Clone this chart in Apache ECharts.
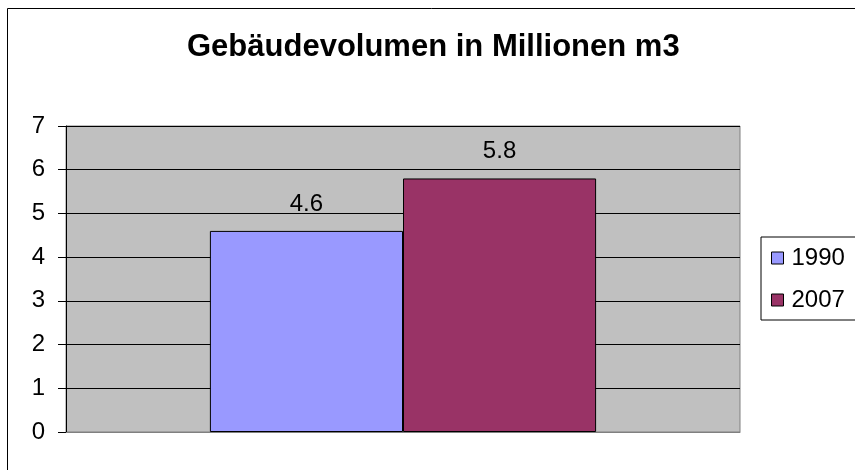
<!DOCTYPE html>
<html><head><meta charset="utf-8">
<script src="https://cdn.jsdelivr.net/npm/echarts@6/dist/echarts.min.js"></script>
<style>html,body{margin:0;padding:0;background:#fff}#c{width:855px;height:470px}</style>
</head><body><div id="c"></div>
<script>
const titleText = 'Gebäudevolumen in Millionen m3';
const categories = [''];
const seriesNames = ['1990', '2007'];
const values1990 = [4.6];
const values2007 = [5.8];
const colors = ['#9999FF', '#993366'];

const chart = echarts.init(document.getElementById('c'), null, {renderer: 'canvas'});
const font = '"Liberation Sans", Arial, sans-serif';
chart.setOption({
  animation: false,
  textStyle: {fontFamily: font},
  title: {
    text: titleText, left: 187, top: 32, padding: 0,
    textStyle: {fontFamily: font, fontSize: 31, fontWeight: 'bold', color: '#000', lineHeight: 31}
  },
  graphic: [{
    type: 'rect', shape: {x: 7.5, y: 8.5, width: 900, height: 500},
    style: {fill: 'none', stroke: '#000', lineWidth: 1}, z: -1, silent: true
  }],
  legend: {
    orient: 'vertical', left: 761, top: 237,
    padding: [9, 40, 8, 10], itemGap: 18,
    itemWidth: 12, itemHeight: 12, icon: 'rect',
    borderColor: '#000', borderWidth: 1,
    textStyle: {fontFamily: font, fontSize: 24, color: '#000', lineHeight: 24, padding: [0,0,0,3]},
    itemStyle: {borderColor: '#000', borderWidth: 1},
    data: seriesNames
  },
  grid: {
    left: 66, right: 115, top: 126, bottom: 38,
    show: true, backgroundColor: '#C0C0C0', borderColor: '#808080', borderWidth: 1
  },
  xAxis: {
    type: 'category', data: categories,
    axisLine: {lineStyle: {color: '#808080'}}, axisTick: {show: false}, axisLabel: {show: false}
  },
  yAxis: {
    type: 'value', min: 0, max: 7, interval: 1,
    axisLine: {show: true, lineStyle: {color: '#000'}},
    axisTick: {show: true, length: 8, lineStyle: {color: '#000'}},
    axisLabel: {fontFamily: font, fontSize: 24, color: '#000', margin: 21},
    splitLine: {lineStyle: {color: '#000', width: 1}}
  },
  series: [
    {name: seriesNames[0], type: 'bar', data: values1990, barGap: '0%', barCategoryGap: '42.7%',
     itemStyle: {color: colors[0], borderColor: '#000', borderWidth: 1},
     label: {show: true, position: 'top', distance: 15, fontFamily: font, fontSize: 24, color: '#000'}},
    {name: seriesNames[1], type: 'bar', data: values2007, barGap: '0%', barCategoryGap: '42.7%',
     itemStyle: {color: colors[1], borderColor: '#000', borderWidth: 1},
     label: {show: true, position: 'top', distance: 15, fontFamily: font, fontSize: 24, color: '#000'}}
  ]
});
</script></body></html>
